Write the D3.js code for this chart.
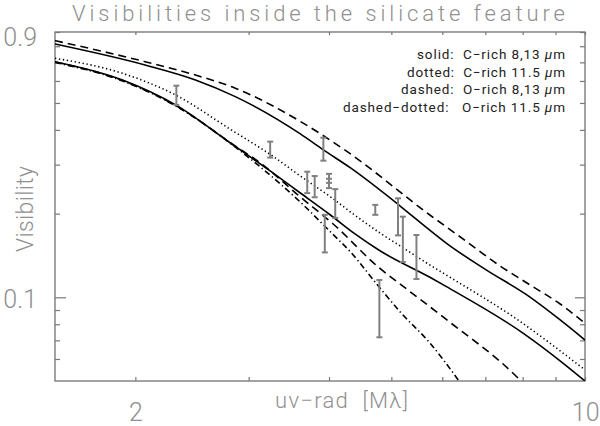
<!DOCTYPE html>
<html>
<head>
<meta charset="utf-8">
<script src="https://cdn.jsdelivr.net/npm/d3@7"></script>
<style>
  body { margin: 0; background: #fff; }
  svg { display: block; }
</style>
</head>
<body>
<svg id="chart" width="600" height="426"></svg>
<script>
// model curves, [uv-radius in Mlambda, visibility]
const cRich8 = [[1.5,0.815],[2.07,0.685],[2.48,0.605],[2.86,0.527],[3.61,0.387],[3.92,0.339],[4.32,0.292],[5.16,0.213],[5.68,0.1776],[6.10,0.156],[7.04,0.125],[8.12,0.102],[9.15,0.0829],[10,0.0702]];
const cRich13 = [[1.5,0.704],[1.91,0.605],[2.31,0.492],[2.81,0.359],[3.24,0.2847],[3.61,0.2372],[4.02,0.1977],[4.39,0.169],[4.80,0.147],[5.74,0.118],[6.10,0.109],[8.02,0.0742],[9.25,0.0579],[10,0.05]];
const cRich115 = [[1.5,0.724],[1.91,0.639],[2.31,0.534],[2.81,0.402],[3.28,0.3205],[3.61,0.273],[4.06,0.226],[4.32,0.2027],[4.80,0.1704],[5.16,0.153],[5.74,0.1307],[6.17,0.118],[7.73,0.0852],[10,0.0548]];
const oRich8 = [[1.5,0.838],[2.07,0.704],[2.48,0.63],[2.86,0.565],[3.61,0.429],[4.27,0.334],[5.74,0.1977],[6.40,0.1648],[7.38,0.1296],[8.22,0.1107],[9.15,0.0946],[10,0.0806]];
const oRich13 = [[1.5,0.702],[1.91,0.602],[2.31,0.490],[2.86,0.350],[3.13,0.304],[3.61,0.2295],[4.06,0.1835],[4.80,0.127],[5.16,0.1116],[6.10,0.0829],[7.83,0.0518],[7.95,0.05]];
const oRich115 = [[1.5,0.699],[1.91,0.600],[2.31,0.488],[2.86,0.347],[3.36,0.2557],[3.61,0.220],[4.02,0.172],[4.32,0.1455],[4.80,0.108],[5.16,0.0886],[5.74,0.0685],[6.37,0.05]];

// measured visibilities: [uv, low, high]
const measured = [
  [2.316,0.492,0.577],[3.24,0.318,0.363],[3.92,0.310,0.375],[3.70,0.237,0.283],
  [3.80,0.229,0.273],[4.00,0.258,0.278],[4.00,0.247,0.267],[4.09,0.193,0.245],
  [3.94,0.145,0.198],[4.72,0.198,0.215],[5.12,0.167,0.227],[5.21,0.134,0.195],
  [5.47,0.1164,0.1675],[4.79,0.0718,0.1154]
];

const xTicks = [2,3,4,5,6,7,8,9,10];
const xLabels = [2,10];
const yTicks = [0.06,0.07,0.08,0.09,0.1,0.2,0.3,0.4,0.5,0.6,0.7,0.8,0.9];
const yLabels = [0.1,0.9];
const legendLines = [
  ["solid:  C\u2212rich 8,13 ", "\u03bc", "m"],
  ["dotted:  C\u2212rich 11.5 ", "\u03bc", "m"],
  ["dashed:  O\u2212rich 8,13 ", "\u03bc", "m"],
  ["dashed\u2212dotted:   O\u2212rich 11.5 ", "\u03bc", "m"]
];
const legendWidths = [148, 158, 164, 222];

const width = 600;
const height = 426;
const marginTop = 32;
const marginRight = 15;
const marginBottom = 45;
const marginLeft = 55;
const font = "Roboto, 'DejaVu Sans', sans-serif";

const x = d3.scaleLog()
    .domain([1.5, 10])
    .range([marginLeft, width - marginRight]);

const y = d3.scaleLog()
    .domain([0.05, 0.9])
    .range([height - marginBottom, marginTop]);

const svg = d3.select("#chart");

svg.append("defs").append("clipPath")
    .attr("id", "plot")
  .append("rect")
    .attr("x", marginLeft)
    .attr("y", marginTop)
    .attr("width", width - marginLeft - marginRight)
    .attr("height", height - marginTop - marginBottom);

// frame
svg.append("rect")
    .attr("x", marginLeft)
    .attr("y", marginTop)
    .attr("width", width - marginLeft - marginRight)
    .attr("height", height - marginTop - marginBottom)
    .attr("fill", "none")
    .attr("stroke", "#666")
    .attr("stroke-width", 1.2);

const fmtX = d => xLabels.includes(d) ? String(d) : "";
const fmtY = d => yLabels.includes(d) ? String(d) : "";

function styleAxis(g) {
  g.select(".domain").remove();
  g.selectAll(".tick line").attr("stroke", "#777").attr("stroke-width", 1.2);
  g.selectAll(".tick text")
      .attr("fill", "#8f8f8f")
      .style("font-family", font)
      .style("font-weight", 300)
      .style("font-size", "25px");
}

svg.append("g")
    .attr("transform", `translate(0,${height - marginBottom})`)
    .call(d3.axisBottom(x).tickValues(xTicks).tickFormat(fmtX).tickSize(-4).tickPadding(22))
    .call(styleAxis)
    .call(g => g.selectAll(".tick text").attr("text-anchor", d => d === 10 ? "end" : "middle")
        .attr("dx", d => d === 10 ? "14px" : 0));

svg.append("g")
    .attr("transform", `translate(0,${marginTop})`)
    .call(d3.axisTop(x).tickValues(xTicks).tickFormat("").tickSize(-3))
    .call(styleAxis);

svg.append("g")
    .attr("transform", `translate(${marginLeft},0)`)
    .call(d3.axisLeft(y).tickValues(yTicks).tickFormat(fmtY).tickSize(-5).tickPadding(18))
    .call(styleAxis)
    .call(g => g.selectAll(".tick line").attr("x2", d => d === 0.1 ? 11 : 5))
    .call(g => g.selectAll(".tick text").attr("dy", d => d === 0.9 ? "0.55em" : "0.4em"));

svg.append("g")
    .attr("transform", `translate(${width - marginRight},0)`)
    .call(d3.axisRight(y).tickValues(yTicks).tickFormat("").tickSize(-5))
    .call(styleAxis)
    .call(g => g.selectAll(".tick line").attr("x2", d => d === 0.1 ? -10 : -5));

// model curves
const line = d3.line()
    .x(d => x(d[0]))
    .y(d => y(d[1]))
    .curve(d3.curveMonotoneX);

const curves = [
  {data: oRich8, dash: "8,5"},
  {data: cRich8, dash: null},
  {data: cRich115, dash: "1.3,2.7"},
  {data: oRich13, dash: "8,5"},
  {data: oRich115, dash: "6,3,1.3,3"},
  {data: cRich13, dash: null}
];

svg.append("g")
    .attr("clip-path", "url(#plot)")
  .selectAll("path")
  .data(curves)
  .join("path")
    .attr("d", d => line(d.data))
    .attr("fill", "none")
    .attr("stroke", "#000")
    .attr("stroke-width", 1.6)
    .attr("stroke-dasharray", d => d.dash);

// error bars
const bars = svg.append("g")
    .attr("stroke", "#808080")
    .attr("stroke-width", 2)
  .selectAll("g")
  .data(measured)
  .join("g");

bars.append("line")
    .attr("x1", d => x(d[0])).attr("x2", d => x(d[0]))
    .attr("y1", d => y(d[1])).attr("y2", d => y(d[2]));

bars.append("line")
    .attr("x1", d => x(d[0]) - 3).attr("x2", d => x(d[0]) + 3)
    .attr("y1", d => y(d[1])).attr("y2", d => y(d[1]));

bars.append("line")
    .attr("x1", d => x(d[0]) - 3).attr("x2", d => x(d[0]) + 3)
    .attr("y1", d => y(d[2])).attr("y2", d => y(d[2]));

// legend
const legend = svg.append("g")
    .attr("font-family", font)
    .attr("font-size", 13.5)
    .attr("fill", "#222");

legend.selectAll("text")
  .data(legendLines)
  .join("text")
    .attr("x", (d, i) => 565 - legendWidths[i])
    .attr("y", (d, i) => 59 + i * 17.7)
    .attr("textLength", (d, i) => legendWidths[i])
    .attr("lengthAdjust", "spacing")
    .style("white-space", "pre")
    .each(function(d) {
      const t = d3.select(this);
      t.append("tspan").text(d[0]);
      t.append("tspan").attr("font-style", "italic").text(d[1]);
      t.append("tspan").text(d[2]);
    });

// title and axis titles
svg.append("text")
    .attr("x", 72)
    .attr("y", 21)
    .attr("textLength", 493)
    .attr("lengthAdjust", "spacing")
    .attr("fill", "#909090")
    .style("font-family", font)
    .style("font-weight", 300)
    .style("font-size", "22px")
    .text("Visibilities inside the silicate feature");

svg.append("text")
    .attr("transform", "translate(33,209) rotate(-90)")
    .attr("text-anchor", "middle")
    .attr("textLength", 86)
    .attr("lengthAdjust", "spacing")
    .attr("fill", "#909090")
    .style("font-family", font)
    .style("font-weight", 300)
    .style("font-size", "23px")
    .text("Visibility");

svg.append("text")
    .attr("x", 275)
    .attr("y", 408)
    .attr("textLength", 133)
    .attr("lengthAdjust", "spacing")
    .attr("fill", "#909090")
    .style("font-family", font)
    .style("font-weight", 300)
    .style("font-size", "22px")
    .style("white-space", "pre")
    .text("uv\u2212rad  [M\u03bb]");
</script>
</body>
</html>
